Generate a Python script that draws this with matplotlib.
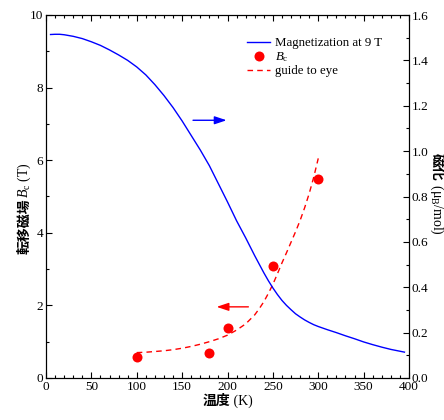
import matplotlib
matplotlib.use("Agg")
import matplotlib.pyplot as plt
from matplotlib.ticker import MultipleLocator, FormatStrFormatter

plt.rcParams["font.family"] = ["Liberation Serif", "Noto Sans CJK JP"]
plt.rcParams["mathtext.fontset"] = "custom"
plt.rcParams["mathtext.rm"] = "Liberation Serif"
plt.rcParams["mathtext.it"] = "Liberation Serif:italic"
plt.rcParams["mathtext.bf"] = "Liberation Serif:bold"

# Magnetization at 9 T (muB/mol) versus temperature (K)
temp_m = [5, 10, 15, 20, 30, 40, 50, 60, 70, 80, 90, 100, 110, 120, 130, 140,
          150, 160, 170, 180, 190, 200, 210, 220, 230, 240, 245, 250, 255, 260,
          265, 270, 275, 280, 285, 290, 295, 300, 310, 320, 330, 340, 350, 360,
          370, 380, 390, 395]
mag = [1.514, 1.515, 1.515, 1.513, 1.506, 1.496, 1.482, 1.466, 1.446, 1.424,
       1.400, 1.371, 1.336, 1.293, 1.245, 1.192, 1.133, 1.069, 1.005, 0.936,
       0.856, 0.776, 0.693, 0.618, 0.539, 0.464, 0.429, 0.397, 0.368, 0.342,
       0.320, 0.301, 0.283, 0.269, 0.256, 0.245, 0.235, 0.227, 0.213, 0.200,
       0.186, 0.173, 0.159, 0.147, 0.136, 0.126, 0.118, 0.114]

# Transition field Bc (T)
temp_bc = [100, 180, 200, 250, 300]
bc = [0.58, 0.69, 1.39, 3.09, 5.48]

# Guide-to-eye curve through Bc
guide_t = [100, 110, 120, 130, 140, 150, 160, 170, 180, 190, 200, 210, 220,
           230, 235, 240, 245, 250, 255, 260, 265, 270, 275, 280, 285, 290,
           295, 300]
guide_bc = [0.70, 0.71, 0.73, 0.75, 0.78, 0.82, 0.87, 0.93, 1.00, 1.08, 1.18,
            1.32, 1.49, 1.74, 1.91, 2.10, 2.33, 2.58, 2.87, 3.17, 3.45, 3.74,
            4.03, 4.34, 4.69, 5.08, 5.53, 6.05]

RED = "#ff0000"
BLUE = "#0000ff"
TICK_FS = 9.5

fig = plt.figure(figsize=(4.44, 4.2), dpi=100)
W, H = 444, 420
ax = fig.add_axes([46 / W, 42 / H, 363 / W, 363 / H])
ax2 = ax.twinx()

dash_line, = ax.plot(guide_t, guide_bc, color=RED, lw=1.0, ls=(0, (4, 3)))
dots, = ax.plot(temp_bc, bc, "o", color=RED, ms=7.2, mec="none")
mag_line, = ax2.plot(temp_m, mag, color=BLUE, lw=1.0)

ax.set_xlim(0, 400)
ax.set_ylim(0, 10)
ax2.set_ylim(0, 1.6)

ax.xaxis.set_major_locator(MultipleLocator(50))
ax.xaxis.set_minor_locator(MultipleLocator(10))
ax.yaxis.set_major_locator(MultipleLocator(2))
ax.yaxis.set_minor_locator(MultipleLocator(1))
ax2.yaxis.set_major_locator(MultipleLocator(0.2))
ax2.yaxis.set_minor_locator(MultipleLocator(0.1))
ax2.yaxis.set_major_formatter(FormatStrFormatter("%.1f"))

for a in (ax, ax2):
    for s in a.spines.values():
        s.set_linewidth(0.8)
ax.tick_params(which="both", direction="in", top=True, right=False,
               labelsize=TICK_FS, pad=2, width=0.8)
ax.tick_params(axis="x", pad=2.5)
ax.tick_params(which="major", length=4)
ax.tick_params(which="minor", length=2)
ax2.tick_params(which="both", direction="in", labelsize=TICK_FS, pad=2, width=0.8)
ax2.tick_params(which="major", length=4)
ax2.tick_params(which="minor", length=2)

# direction arrows pointing to each curve's axis
arrow_kw = dict(arrowstyle="-|>,head_length=0.6,head_width=0.2", lw=1.0,
                mutation_scale=12, shrinkA=0, shrinkB=0)
ax.annotate("", xy=(199, 7.1), xytext=(162, 7.1),
            arrowprops=dict(color=BLUE, **arrow_kw))
ax.annotate("", xy=(188, 1.96), xytext=(223, 1.96),
            arrowprops=dict(color=RED, **arrow_kw))

leg = ax2.legend([mag_line, dots, dash_line],
                 ["Magnetization at 9 T", r"$B_\mathrm{c}$", "guide to eye"],
                 loc="upper left", bbox_to_anchor=(247 / W, 1 - 37 / H),
                 bbox_transform=fig.transFigure, frameon=False, fontsize=9.3,
                 handlelength=1.8, handletextpad=0.4, labelspacing=0.1,
                 borderpad=0, borderaxespad=0, numpoints=1)

CJK = dict(family=["Noto Sans CJK JP"], weight="bold", fontsize=10)
LAT = dict(family=["Liberation Serif"], fontsize=10)


def compound_label(pieces, cx, cy, rotation):
    """Place text pieces end to end, centred at pixel (cx, cy), on a shared baseline."""
    texts = [fig.text(0, 0, s, rotation=rotation, rotation_mode="anchor",
                      ha="center", va="baseline", **kw) for s, kw in pieces]
    r = fig.canvas.get_renderer()
    sizes = []
    for t in texts:
        e = t.get_window_extent(r)
        sizes.append(e.width if rotation == 0 else e.height)
    total = sum(sizes)
    if rotation == 0:
        d = (1, 0)
    elif rotation == 90:
        d = (0, 1)
    else:
        d = (0, -1)
    pos = -total / 2
    for t, s in zip(texts, sizes):
        c = pos + s / 2
        px = cx + d[0] * c
        py = (H - cy) + d[1] * c
        t.set_position((px / W, py / H))
        pos += s
    return texts


compound_label([("温度", CJK), (" (K)", LAT)], 227.5, 405, 0)
compound_label([("転移磁場", CJK), (r"$B_\mathrm{c}$ (T)", LAT)], 28, 208, 90)
compound_label([("磁化", CJK), (r" (μ$_\mathrm{B}$/mol)", LAT)], 433, 194, 270)

fig.savefig("out.png", dpi=100)
